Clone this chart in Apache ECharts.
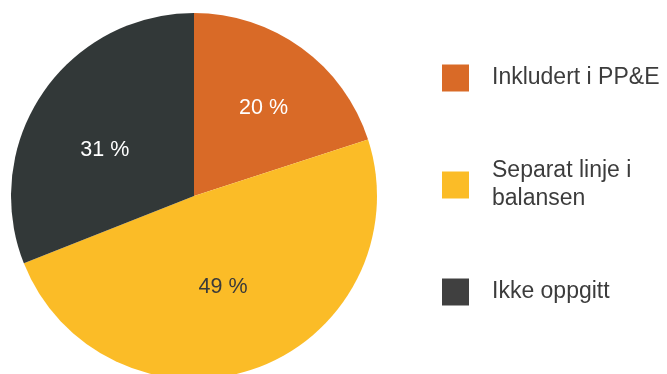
<!DOCTYPE html>
<html>
<head>
<meta charset="utf-8">
<script src="https://cdn.jsdelivr.net/npm/echarts@6/dist/echarts.min.js"></script>
<style>
  html, body { margin: 0; padding: 0; background: #ffffff; }
  #chart { width: 667px; height: 374px; }
</style>
</head>
<body>
<div id="chart"></div>
<script>
// Kategorier og andeler (%)
const categories = ['Inkludert i PP&E', 'Separat linje i balansen', 'Ikke oppgitt'];
const shares = [20, 49, 31];
const sliceColors = ['#D96A27', '#FBBC27', '#323838'];
const legendColors = ['#D96A27', '#FBBC27', '#404040'];
const labelColors = ['#ffffff', '#3a3a3a', '#ffffff'];
const labelOffsets = [[14, -11], [-3, 2], [-11, 7]];
const legendTops = [64, 143, 278];

const FONT = '"Liberation Sans", Arial, Helvetica, sans-serif';

const chart = echarts.init(document.getElementById('chart'), null, { renderer: 'canvas' });

const data = categories.map((name, i) => ({
  name: name,
  value: shares[i],
  itemStyle: { color: sliceColors[i] },
  label: { color: labelColors[i], offset: labelOffsets[i] }
}));

// One legend block per category so each row sits at its own height
const legends = categories.map((name, i) => ({
  orient: 'vertical',
  left: 442,
  top: legendTops[i],
  padding: 0,
  itemWidth: 27,
  itemHeight: 27,
  icon: 'rect',
  selectedMode: false,
  data: [{
    name: name,
    itemStyle: { color: legendColors[i] },
    textStyle: {
      padding: i === 1 ? [28, 0, 0, 18] : [0, 0, 0, 18]
    }
  }],
  textStyle: {
    fontFamily: FONT,
    fontSize: 23,
    color: '#3c3c3c',
    lineHeight: 28,
    width: 175,
    overflow: 'break'
  }
}));

chart.setOption({
  animation: false,
  backgroundColor: '#ffffff',
  legend: legends,
  series: [{
    type: 'pie',
    center: [194, 196],
    radius: [0, 183],
    startAngle: 90,
    clockwise: true,
    avoidLabelOverlap: false,
    label: {
      show: true,
      position: 'inside',
      fontFamily: FONT,
      fontSize: 21.5,
      formatter: p => p.value + ' %'
    },
    labelLine: { show: false },
    itemStyle: { borderWidth: 0 },
    emphasis: { disabled: true },
    data: data
  }]
});
</script>
</body>
</html>
